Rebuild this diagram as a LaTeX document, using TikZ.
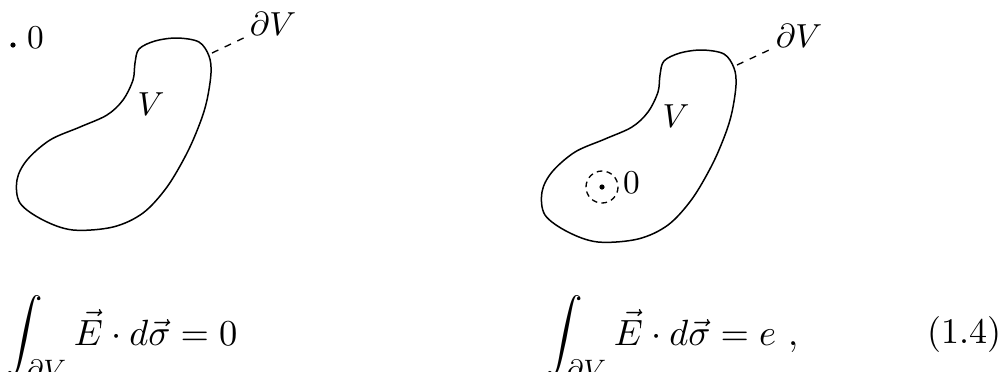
\documentclass[tikz,border=0pt]{standalone}
\usepackage{amsmath}
\begin{document}
\begin{tikzpicture}[x=0.3pt,y=-0.3pt,
  blob/.style={line width=0.45pt},
  conn/.style={line width=0.4pt,dash pattern=on 2.1pt off 2.1pt},
  lab/.style={inner sep=1pt,font=\fontsize{10.3}{12}\selectfont},
  eqn/.style={inner sep=0pt,font=\fontsize{10.8}{13}\selectfont}]
\useasboundingbox (0,0) rectangle (1003,371);
\tikzset{blobpath/.pic={
  \draw[blob] plot[smooth cycle,tension=0.55] coordinates{
   (135,63) (139,49) (155,41) (177,38) (199,42) (209,56) (211,73) (207,100)
   (200,123) (187,153) (167,187) (143,213) (113,227) (73,230) (43,220)
   (20,203) (17,180) (27,160) (50,140) (80,127) (107,115) (123,100) (133,80)};
}}
% left figure
\pic at (0,0) {blobpath};
\coordinate (bL) at (212,53);
\node[lab] (dVL) at (273,24) {$\partial V$};
\draw[conn] (bL) -- (dVL);
\node[lab] (VL) at (151,104) {$V$};
\fill (13,45) circle[radius=2.6] coordinate (oL);
\node[lab,anchor=west] (zL) at (23,38) {$0$};
% right figure
\pic at (525,12) {blobpath};
\coordinate (bR) at (737,65);
\node[lab] (dVR) at (799,36) {$\partial V$};
\draw[conn] (bR) -- (dVR);
\node[lab] (VR) at (676,116) {$V$};
\fill (602,187) circle[radius=2.6] coordinate (oR);
\draw[conn,dash pattern=on 1.7pt off 1.3pt] (oR) circle[radius=16];
\node[lab,anchor=west] (zR) at (619,183) {$0$};
% equations
\node[eqn,anchor=base west] (eqL) at (6,345) {$\displaystyle\int_{\partial V}\vec E\cdot d\vec\sigma=0$};
\node[eqn,anchor=base west] (eqR) at (546,345) {$\displaystyle\int_{\partial V}\vec E\cdot d\vec\sigma=e\ ,$};
\node[eqn,anchor=base east] (num) at (1002,343) {(1.4)};
\end{tikzpicture}
\end{document}
